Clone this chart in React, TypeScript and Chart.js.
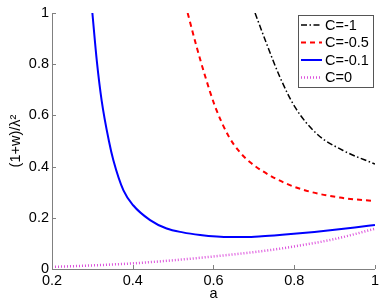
import React, { useEffect, useRef } from "react";
import { Chart, registerables } from "chart.js";

Chart.register(...registerables);

// ---- data ----
const seriesLabels = ["C=-1", "C=-0.5", "C=-0.1", "C=0"];

const aC1 = [0.703, 0.732, 0.765, 0.802, 0.856, 0.921, 1.0];
const vC1 = [1.0, 0.878, 0.748, 0.632, 0.528, 0.463, 0.41];

const aC05 = [0.536, 0.557, 0.579, 0.604, 0.637, 0.666, 0.69, 0.723, 0.781, 0.839, 0.913, 1.0];
const vC05 = [1.0, 0.875, 0.755, 0.635, 0.52, 0.455, 0.418, 0.381, 0.333, 0.302, 0.279, 0.265];

const aC01 = [0.3, 0.311, 0.323, 0.341, 0.352, 0.377, 0.401, 0.443, 0.484, 0.524, 0.567, 0.608, 0.641, 0.68, 0.72, 0.77, 0.85, 0.9, 0.95, 1.0];
const vC01 = [1.0, 0.813, 0.658, 0.5, 0.425, 0.307, 0.249, 0.191, 0.158, 0.143, 0.133, 0.127, 0.125, 0.125, 0.128, 0.134, 0.145, 0.153, 0.162, 0.172];

const aC0 = [0.2, 0.3, 0.4, 0.5, 0.6, 0.7, 0.75, 0.8, 0.9, 1.0];
const vC0 = [0.008, 0.014, 0.022, 0.034, 0.049, 0.066, 0.076, 0.088, 0.117, 0.157];

const xTicks = [0.2, 0.4, 0.6, 0.8, 1];
const xTickLabels = ["0.2", "0.4", "0.6", "0.8", "1"];
const yTicks = [0, 0.2, 0.4, 0.6, 0.8, 1];
const yTickLabels = ["0", "0.2", "0.4", "0.6", "0.8", "1"];
const xTitle = "a";
const yTitle = "(1+w)/λ²";

// ---- styles ----
const FONT = "'Liberation Sans', Arial, Helvetica, sans-serif";
const FS = 14.5;
const AXIS_COLOR = "#808080";

const toPts = (a: number[], v: number[]) => a.map((x, i) => ({ x, y: v[i] }));

const labelFor = (vals: number[], labels: string[], value: number) => {
  let best = 0;
  vals.forEach((v, i) => {
    if (Math.abs(v - value) < Math.abs(vals[best] - value)) best = i;
  });
  return labels[best];
};

const innerTicks = {
  id: "innerTicks",
  afterDatasetsDraw(chart: any) {
    const { ctx, chartArea, scales } = chart;
    ctx.save();
    ctx.strokeStyle = AXIS_COLOR;
    ctx.lineWidth = 1;
    ctx.beginPath();
    scales.x.ticks.forEach((t: any) => {
      const px = Math.round(scales.x.getPixelForValue(t.value)) + 0.5;
      ctx.moveTo(px, chartArea.bottom);
      ctx.lineTo(px, chartArea.bottom - 4);
    });
    scales.y.ticks.forEach((t: any) => {
      const py = Math.round(scales.y.getPixelForValue(t.value)) + 0.5;
      ctx.moveTo(chartArea.left, py);
      ctx.lineTo(chartArea.left + 4, py);
    });
    ctx.stroke();
    ctx.restore();
  },
};

const boxLegend = {
  id: "boxLegend",
  afterDraw(chart: any) {
    const { ctx, chartArea } = chart;
    const ds = chart.data.datasets;
    ctx.save();
    ctx.font = `${FS}px ${FONT}`;
    const rowH = 17.5;
    const sample = 21;
    const padX = 3;
    const gap = 3;
    const padR = 4;
    const padTop = 10;
    const textW = Math.max(...ds.map((d: any) => ctx.measureText(d.label).width));
    const w = Math.round(padX + sample + gap + textW + padR);
    const h = Math.round(padTop + (ds.length - 1) * rowH + 9.5);
    const right = Math.round(chartArea.right - 2);
    const top = Math.round(chartArea.top + 2);
    const left = right - w;
    ctx.fillStyle = "#ffffff";
    ctx.fillRect(left, top, w, h);
    ctx.strokeStyle = "#555555";
    ctx.lineWidth = 1;
    ctx.setLineDash([]);
    ctx.strokeRect(left + 0.5, top + 0.5, w, h);
    ds.forEach((d: any, i: number) => {
      const y = top + padTop + i * rowH;
      ctx.save();
      ctx.strokeStyle = d.borderColor;
      ctx.lineWidth = d.borderWidth;
      ctx.setLineDash(d.borderDash || []);
      ctx.beginPath();
      ctx.moveTo(left + padX, y);
      ctx.lineTo(left + padX + sample, y);
      ctx.stroke();
      ctx.restore();
      ctx.fillStyle = "#000000";
      ctx.textBaseline = "middle";
      ctx.textAlign = "left";
      ctx.fillText(d.label, left + padX + sample + gap, y + 0.5);
    });
    ctx.restore();
  },
};

export default function App() {
  const ref = useRef<HTMLCanvasElement | null>(null);

  useEffect(() => {
    if (!ref.current) return;
    Chart.defaults.font.family = FONT;
    Chart.defaults.font.size = FS;
    Chart.defaults.color = "#000000";

    const common = {
      showLine: true,
      pointRadius: 0,
      pointHoverRadius: 0,
      fill: false,
      cubicInterpolationMode: "monotone" as const,
    };

    const chart = new Chart(ref.current, {
      type: "scatter",
      data: {
        datasets: [
          {
            ...common,
            label: seriesLabels[0],
            data: toPts(aC1, vC1),
            borderColor: "#000000",
            borderWidth: 1.5,
            borderDash: [6, 2.5, 1.5, 2.5],
          },
          {
            ...common,
            label: seriesLabels[1],
            data: toPts(aC05, vC05),
            borderColor: "#ff0000",
            borderWidth: 2,
            borderDash: [5, 4],
          },
          {
            ...common,
            label: seriesLabels[2],
            data: toPts(aC01, vC01),
            borderColor: "#0000ff",
            borderWidth: 2,
          },
          {
            ...common,
            label: seriesLabels[3],
            data: toPts(aC0, vC0),
            borderColor: "rgb(220,80,220)",
            borderWidth: 2.5,
            borderDash: [1, 2],
          },
        ],
      },
      options: {
        animation: false,
        responsive: false,
        devicePixelRatio: 1,
        layout: { padding: { left: 0, top: 13, right: 7, bottom: 0 } },
        plugins: {
          legend: { display: false },
          tooltip: { enabled: false },
        },
        scales: {
          x: {
            type: "linear",
            min: 0.2,
            max: 1,
            afterBuildTicks: (s: any) => {
              s.ticks = xTicks.map((v) => ({ value: v }));
            },
            afterFit: (s: any) => {
              s.height = 35;
            },
            ticks: {
              padding: 3,
              maxRotation: 0,
              autoSkip: false,
              callback: (value: any) => labelFor(xTicks, xTickLabels, Number(value)),
            },
            grid: { display: false, drawTicks: false },
            border: { display: true, color: AXIS_COLOR, width: 1 },
            title: {
              display: true,
              text: xTitle,
              padding: { top: 0, bottom: 1 },
              font: { size: FS, family: FONT },
            },
          },
          y: {
            type: "linear",
            min: 0,
            max: 1,
            afterBuildTicks: (s: any) => {
              s.ticks = yTicks.map((v) => ({ value: v }));
            },
            afterFit: (s: any) => {
              s.width = 52;
            },
            ticks: {
              padding: 3,
              autoSkip: false,
              callback: (value: any) => labelFor(yTicks, yTickLabels, Number(value)),
            },
            grid: { display: false, drawTicks: false },
            border: { display: true, color: AXIS_COLOR, width: 1 },
            title: {
              display: true,
              text: yTitle,
              padding: { top: 7, bottom: 0 },
              font: { size: FS, family: FONT },
            },
          },
        },
      },
      plugins: [innerTicks, boxLegend],
    });

    return () => chart.destroy();
  }, []);

  return (
    <div style={{ position: "absolute", left: 0, top: 0, width: 382, height: 304, background: "#ffffff" }}>
      <canvas ref={ref} width={382} height={304} style={{ display: "block", width: 382, height: 304 }} />
    </div>
  );
}
